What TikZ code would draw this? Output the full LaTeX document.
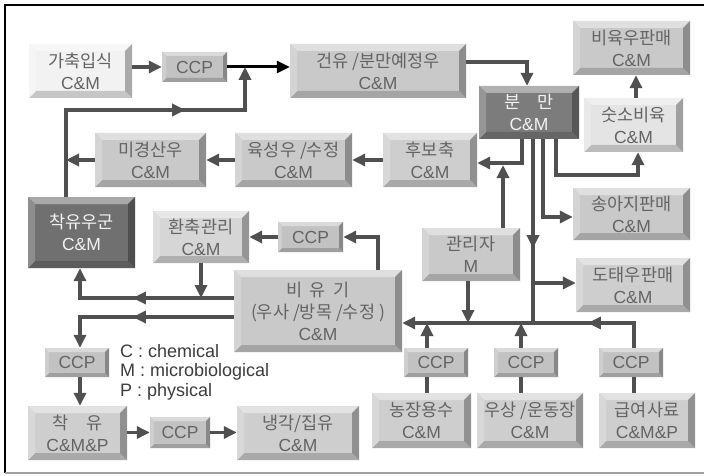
\documentclass[tikz,border=0pt]{standalone}
\usepackage{fontspec}
\setmainfont{Liberation Sans}
\newfontfamily\kr{Noto Sans CJK KR}
\usetikzlibrary{arrows.meta,decorations.markings,calc}

\definecolor{lnc}{HTML}{505050}
\definecolor{btxt}{HTML}{646464}
\definecolor{dtxt}{HTML}{F2F2F2}
\definecolor{legtxt}{HTML}{3C3C3C}
\definecolor{fLight}{HTML}{F2F2F2}
\definecolor{fLight2}{HTML}{E4E4E4}
\definecolor{fLight3}{HTML}{D6D6D6}
\definecolor{fStd}{HTML}{C9C9C9}
\definecolor{fStd2}{HTML}{CECECE}
\definecolor{fCCP}{HTML}{C2C2C2}
\definecolor{fDark}{HTML}{7C7C7C}
\definecolor{fDark2}{HTML}{707070}

\newcommand\mybevel[2]{%
  \fill[#1!60!white] (path picture bounding box.north west) -- (path picture bounding box.north east)
     -- ([xshift=-#2,yshift=-#2]path picture bounding box.north east) -- ([xshift=#2,yshift=-#2]path picture bounding box.north west) -- cycle;
  \fill[#1!82!black] (path picture bounding box.south west) -- (path picture bounding box.south east)
     -- ([xshift=-#2,yshift=#2]path picture bounding box.south east) -- ([xshift=#2,yshift=#2]path picture bounding box.south west) -- cycle;
  \fill[#1!80!white] (path picture bounding box.north west) -- ([xshift=#2,yshift=-#2]path picture bounding box.north west)
     -- ([xshift=#2,yshift=#2]path picture bounding box.south west) -- (path picture bounding box.south west) -- cycle;
  \fill[#1!70!black] (path picture bounding box.north east) -- ([xshift=-#2,yshift=-#2]path picture bounding box.north east)
     -- ([xshift=-#2,yshift=#2]path picture bounding box.south east) -- (path picture bounding box.south east) -- cycle;
}

\newcommand\btn[7]{%
  \pgfmathsetmacro\bw{#5-#3}%
  \pgfmathsetmacro\bh{#6-#4}%
  \node[#1, minimum width=\bw pt, minimum height=\bh pt] (#2) at ({(#3+#5)/2},{(#4+#6)/2}) {#7};%
}

\tikzset{
  btnbase/.style={rectangle, inner sep=0pt, align=center, font=\fontsize{17.5}{22}\selectfont, text=btxt},
  btn/.style={btnbase, fill=#1, path picture={\mybevel{#1}{7pt}}},
  darkbtn/.style={btnbase, text=dtxt, fill=#1, path picture={\mybevel{#1}{7pt}}},
  ccp/.style={btnbase, fill=fCCP, path picture={\mybevel{fCCP}{4pt}}},
  conn/.style={draw=lnc, line width=3.4pt},
  arr/.style={conn, -{Triangle[length=13pt,width=12pt]}},
  blackarr/.style={draw=black, line width=3pt, -{Triangle[length=13pt,width=12pt]}},
  midarr/.style={postaction={decorate,decoration={markings,mark=at position #1 with {\arrow{Triangle[length=13pt,width=12pt]}}}}},
  legend/.style={anchor=west, inner sep=0pt, text=legtxt, font=\fontsize{18}{22}\selectfont},
}

\begin{document}
\begin{tikzpicture}[x=1pt,y=-1pt]
\useasboundingbox (0,0) rectangle (704,476);
\fill[white] (0,0) rectangle (704,476);
\draw[black, line width=1.8pt] (5,473) -- (5,5) -- (704,5);
\draw[gray!75, line width=1.3pt] (5,473) -- (704,473);

% boxes
\btn{btn=fLight}{A}{29}{44}{132}{98}{{\kr 가축입식}\\C\&M}
\btn{ccp}{ccp1}{162}{52}{227}{82}{CCP}
\btn{btn=fStd}{B}{290}{44}{466}{98}{{\kr 건유 /분만예정우}\\C\&M}
\btn{darkbtn=fDark}{C}{479}{86}{579}{139}{{\kr 분\quad 만}\\C\&M}
\btn{btn=fStd}{D}{573}{21}{690}{75}{{\kr 비육우판매}\\C\&M}
\btn{btn=fLight2}{E}{584}{98}{683}{152}{{\kr 숫소비육}\\C\&M}
\btn{btn=fStd}{F}{95}{133}{206}{187}{{\kr 미경산우}\\C\&M}
\btn{btn=fStd}{G}{235}{133}{352}{187}{{\kr 육성우 /수정}\\C\&M}
\btn{btn=fStd2}{H}{383}{133}{477}{187}{{\kr 후보축}\\C\&M}
\btn{darkbtn=fDark2}{I}{28}{197}{135}{268}{{\kr 착유우군}\\C\&M}
\btn{btn=fLight3}{J}{153}{211}{249}{263}{{\kr 환축관리}\\C\&M}
\btn{ccp}{ccp2}{278}{222}{343}{252}{CCP}
\btn{btn=fStd}{K}{234}{270}{402}{352}{{\kr 비\hspace{7pt}유\hspace{7pt}기}\\{\kr (우사 /방목 /수정 )}\\C\&M}
\btn{btn=fStd}{L}{422}{228}{520}{281}{{\kr 관리자}\\M}
\btn{btn=fStd}{M}{573}{188}{690}{240}{{\kr 송아지판매}\\C\&M}
\btn{btn=fStd2}{N}{576}{258}{690}{312}{{\kr 도태우판매}\\C\&M}
\btn{ccp}{ccp3}{45}{348}{109}{377}{CCP}
\btn{btn=fStd2}{O}{28}{406}{127}{460}{{\kr 착\quad 유}\\C\&M\&P}
\btn{ccp}{ccp4}{150}{417}{210}{448}{CCP}
\btn{btn=fStd2}{P}{237}{406}{359}{460}{{\kr 냉각/집유}\\C\&M}
\btn{btn=fStd2}{Q}{372}{393}{471}{448}{{\kr 농장용수}\\C\&M}
\btn{btn=fStd2}{R}{477}{393}{583}{448}{{\kr 우상 /운동장}\\C\&M}
\btn{btn=fStd2}{S}{599}{393}{695}{448}{{\kr 급여사료}\\C\&M\&P}
\btn{ccp}{ccp5}{404}{348}{468}{377}{CCP}
\btn{ccp}{ccp6}{494}{348}{558}{377}{CCP}
\btn{ccp}{ccp7}{599}{348}{663}{377}{CCP}

% legend
\node[legend] (lc) at (120,351) {C : chemical};
\node[legend] (lm) at (120,372) {M : microbiological};
\node[legend] (lp) at (120,392) {P : physical};

% helper coordinates
\coordinate (j1) at (66,110);
\coordinate (j2) at (245,110);
\coordinate (j3) at (245,67);
\coordinate (b1) at (527,62);
\coordinate (c1) at (522,163);
\coordinate (l1) at (503,165);
\coordinate (c2) at (533,323);
\coordinate (c3) at (533,283);
\coordinate (c4) at (543,217);
\coordinate (c5) at (556,175);
\coordinate (c6) at (638,175);
\coordinate (e1) at (636,0);
\coordinate (k1) at (378,237);
\coordinate (k2) at (80,298);
\coordinate (k3) at (80,317);
\coordinate (s1) at (634,323);
\coordinate (l2) at (468,323);
\coordinate (q1) at (427,323);
\coordinate (r1) at (521,323);

% connectors
\draw[arr] (ccp1.west -| A.east) -- (ccp1.west);
\draw[blackarr] (ccp1.east) -- (ccp1.east -| B.west);
\draw[arr, midarr=206pt] (I.north -| j1) -- (j1) -- (j2) -- (j3);
\draw[arr] (b1 -| B.east) -- (b1) -- (C.north -| b1);
\draw[arr] (C.south -| c1) -- (c1) -- (c1 -| H.east);
\draw[arr] (L.north -| l1) -- (l1);
\draw[conn, midarr=109pt] (C.south -| c2) -- (c2);
\draw[arr] (c3) -- (c3 -| N.west);
\draw[arr] (C.south -| c4) -- (c4) -- (c4 -| M.west);
\draw[arr] (C.south -| c5) -- (c5) -- (c6) -- (E.south -| c6);
\draw[arr] (E.north -| e1) -- (D.south -| e1);
\draw[arr] (H.west) -- (G.east);
\draw[arr] (G.west) -- (F.east);
\draw[arr] (F.west) -- (F.west -| j1);
\draw[arr] (K.north -| k1) -- (k1) -- (k1 -| ccp2.east);
\draw[arr] (ccp2.west) -- (ccp2.west -| J.east);
\draw[arr] (J.south) -- (J.south |- k2);
\draw[arr, midarr=101pt] (K.west |- k2) -- (k2) -- (I.south -| k2);
\draw[arr, midarr=101pt] (K.west |- k3) -- (k3) -- (ccp3.north -| k3);
\draw[arr] (ccp3.south -| k3) -- (O.north -| k3);
\draw[arr] (O.east |- ccp4.west) -- (ccp4.west);
\draw[arr] (ccp4.east) -- (ccp4.east -| P.west);
\draw[conn] (S.north -| s1) -- (ccp7.south -| s1);
\draw[arr, midarr=71pt] (ccp7.north -| s1) -- (s1) -- (s1 -| K.east);
\draw[arr] (L.south -| l2) -- (l2);
\draw[conn] (Q.north -| q1) -- (ccp5.south -| q1);
\draw[arr] (ccp5.north -| q1) -- (q1);
\draw[conn] (R.north -| r1) -- (ccp6.south -| r1);
\draw[arr] (ccp6.north -| r1) -- (r1);
\end{tikzpicture}
\end{document}
